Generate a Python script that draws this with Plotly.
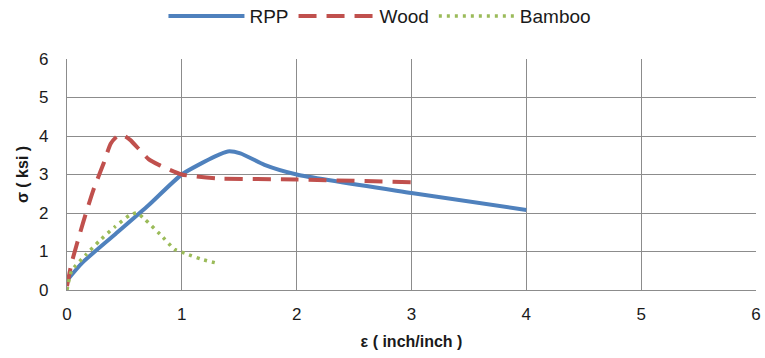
import plotly.graph_objects as go

rpp_x = [0.0, 0.13, 0.42, 0.71, 1.0, 1.29, 1.4, 1.51, 1.72, 2.0, 3.0, 4.0]
rpp_y = [0.25, 0.7, 1.45, 2.2, 3.0, 3.47, 3.6, 3.55, 3.25, 3.0, 2.52, 2.08]

wood_x = [0.0, 0.04, 0.14, 0.23, 0.32, 0.38, 0.44, 0.5, 0.55, 0.71, 0.8, 1.0, 1.3, 2.0, 3.0]
wood_y = [0.1, 0.7, 1.75, 2.6, 3.3, 3.8, 4.0, 4.0, 3.9, 3.4, 3.25, 3.0, 2.9, 2.87, 2.8]

bam_x = [0.0, 0.04, 0.16, 0.28, 0.42, 0.55, 0.61, 0.68, 0.81, 0.94, 1.03, 1.17, 1.3]
bam_y = [0.0, 0.5, 0.9, 1.27, 1.65, 1.95, 2.0, 1.83, 1.45, 1.05, 0.95, 0.8, 0.7]

fig = go.Figure()
fig.add_trace(go.Scatter(x=rpp_x, y=rpp_y, mode="lines", name="RPP",
                         line=dict(color="#4F81BD", width=4, shape="spline", smoothing=0.6)))
fig.add_trace(go.Scatter(x=wood_x, y=wood_y, mode="lines", name="Wood",
                         line=dict(color="#C0504D", width=4, dash="18px,10px", shape="spline", smoothing=0.5)))
fig.add_trace(go.Scatter(x=bam_x, y=bam_y, mode="lines", name="Bamboo",
                         line=dict(color="#9BBB59", width=3.5, dash="3px,5px", shape="spline", smoothing=0.5)))

font = "Liberation Sans, Arial, sans-serif"
fig.update_layout(
    width=765, height=358,
    margin=dict(l=67, r=9, t=59, b=68, autoexpand=False),
    paper_bgcolor="white", plot_bgcolor="white",
    font=dict(family=font, size=15, color="#1a1a1a"),
    legend=dict(orientation="h", x=0.14, xanchor="left", y=1.186, yanchor="middle",
                font=dict(size=19), tracegroupgap=0, itemwidth=76),
    xaxis=dict(range=[0, 6], dtick=1, showgrid=True, gridcolor="#8c8c8c", gridwidth=1.3,
               showline=True, linecolor="#8c8c8c", linewidth=1.3, zeroline=False,
               ticks="", ticklabelstandoff=8, automargin=False,
               tickfont=dict(size=17, color="#1a1a1a"),
               title=dict(text="<b>ε ( inch/inch )</b>", font=dict(size=16), standoff=13)),
    yaxis=dict(range=[0, 6], dtick=1, showgrid=True, gridcolor="#8c8c8c", gridwidth=1.3,
               showline=True, linecolor="#8c8c8c", linewidth=1.3, zeroline=False,
               ticks="", ticklabelstandoff=14, automargin=False,
               tickfont=dict(size=17, color="#1a1a1a"),
               title=dict(text="<b>σ ( ksi )</b>", font=dict(size=16), standoff=6)),
)
fig.write_html("out.html", config={"displayModeBar": False},
               post_script="document.body.style.margin='0';")
